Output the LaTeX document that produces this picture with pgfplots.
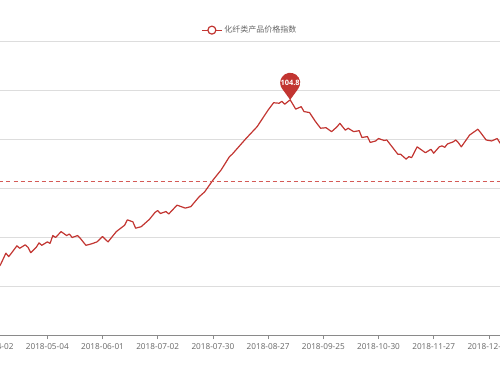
\documentclass[border=0pt]{standalone}
\usepackage{pgfplots}
\pgfplotsset{compat=1.18}
\usepackage{fontspec}
\setmainfont{Open Sans}
\newfontfamily\cjk{Noto Sans CJK SC}
\definecolor{c1}{HTML}{C23531}
\definecolor{avgc}{HTML}{D45A56}
\definecolor{gridc}{HTML}{DDDDDD}
\definecolor{axc}{HTML}{8A8A8A}
\definecolor{labc}{HTML}{666666}
\pgfdeclareplotmark{pin}{%
  \pgfpathmoveto{\pgfpoint{0pt}{0pt}}%
  \pgfpathlineto{\pgfpoint{8.09pt}{11.12pt}}%
  \pgfpatharc{-36}{216}{10pt}%
  \pgfpathclose
  \pgfusepath{fill}%
}
\pgfplotstableread{
x y
1 101.30
3 101.43
5 101.67
6 101.60
7 101.67
9 101.82
10 101.77
12 101.84
13 101.79
14 101.68
16 101.79
17 101.88
18 101.83
20 101.90
21 101.87
22 102.03
23 101.99
25 102.11
27 102.03
28 102.06
29 101.99
31 102.03
32 101.97
34 101.83
36 101.86
38 101.90
40 102.01
42 101.90
45 102.11
48 102.24
49 102.35
51 102.31
52 102.18
54 102.21
56 102.31
57 102.36
59 102.50
60 102.54
61 102.48
63 102.52
64 102.47
67 102.65
69 102.61
70 102.59
72 102.62
75 102.82
77 102.92
80 103.16
83 103.37
86 103.64
87 103.69
92 104.01
93 104.07
96 104.25
100 104.59
102 104.74
104 104.73
105 104.77
106 104.71
108 104.80
110 104.61
112 104.66
113 104.56
115 104.54
117 104.37
119 104.22
121 104.23
123 104.15
125 104.25
126 104.32
128 104.18
129 104.22
131 104.15
133 104.17
134 104.03
136 104.05
137 103.93
139 103.96
140 104.01
142 103.97
143 103.98
147 103.69
148 103.69
150 103.59
151 103.64
152 103.62
154 103.84
157 103.72
159 103.79
160 103.71
162 103.84
163 103.86
164 103.83
165 103.90
167 103.94
168 103.98
169 103.92
170 103.84
173 104.08
176 104.20
177 104.13
179 103.98
181 103.96
183 104.01
184 103.92
186 103.85
}\maindata
\begin{document}
\begin{tikzpicture}
\useasboundingbox (0,0) rectangle (500pt,375pt);
\clip (0,0) rectangle (500pt,375pt);
\begin{axis}[
  at={(-35.5pt,40pt)}, anchor=south west,
  scale only axis, width=552pt, height=294pt,
  xmin=-10, xmax=190, ymin=100, ymax=106,
  axis x line*=bottom, axis y line*=left,
  y axis line style={draw=none},
  x axis line style={draw=axc, line width=0.8pt},
  ytick={100,101,...,106}, yticklabels={},
  ytick style={draw=none},
  ymajorgrids, major grid style={draw=gridc, line width=1pt},
  xtick={0,20,...,180},
  xticklabels={2018-04-02,2018-05-04,2018-06-01,2018-07-02,2018-07-30,2018-08-27,2018-09-25,2018-10-30,2018-11-27,2018-12-25},
  xtick style={draw=axc, line width=0.8pt},
  xtick align=outside, major tick length=4pt,
  xticklabel style={font=\fontsize{8.2}{10}\selectfont, text=labc, yshift=-1pt},
  legend style={at={(0.517,1.037)}, anchor=center, draw=none, fill=none,
    font=\cjk\fontsize{8}{10}\selectfont, text=labc, legend columns=1,
    inner sep=0pt},
  legend image code/.code={%
    \draw[#1, mark=none] (0pt,0pt) -- (20pt,0pt);
    \draw[#1, fill=white, mark=none] (10pt,0pt) circle (4pt);},
]
\addplot[c1, line width=1.2pt, mark=none, line join=round] table {\maindata};
\addlegendentry{化纤类产品价格指数}
\addplot[avgc, line width=1pt, mark=none, dash pattern=on 4pt off 3pt, forget plot] coordinates {(-10,103.14) (190,103.14)};
\addplot[only marks, mark=pin, mark options={fill=c1, draw=none}, forget plot,
  point meta=explicit symbolic, nodes near coords,
  every node near coord/.append style={text=white, inner sep=0pt, yshift=14.2pt,
    font=\bfseries\fontsize{7.4}{8}\selectfont}]
  coordinates {(108,104.8) [104.8]};
\end{axis}
\end{tikzpicture}
\end{document}
